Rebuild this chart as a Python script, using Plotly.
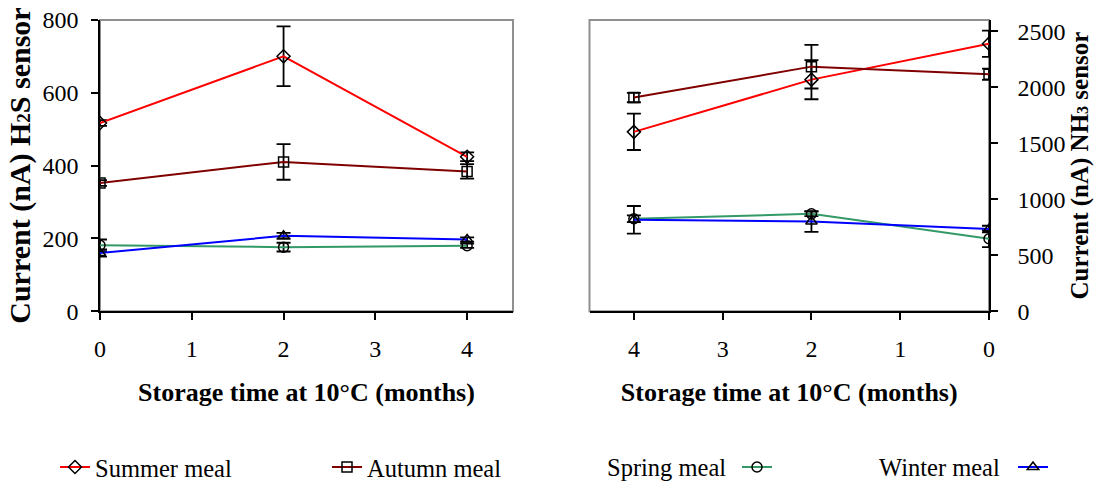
import plotly.graph_objects as go

months = [0, 2, 4]
x_ticks = [0, 1, 2, 3, 4]
h2s_ticks = [0, 200, 400, 600, 800]
nh3_ticks = [0, 500, 1000, 1500, 2000, 2500]

# Left panel: H2S sensor (nA)
h2s_summer = [517, 700, 424]
h2s_summer_err = [8, 82, 12]
h2s_autumn = [352, 410, 384]
h2s_autumn_err = [8, 49, 20]
h2s_spring = [181, 176, 180]
h2s_spring_err = [16, 12, 6]
h2s_winter = [160, 207, 197]
h2s_winter_err = [10, 8, 6]

# Right panel: NH3 sensor (nA)
nh3_summer = [2388, 2067, 1601]
nh3_summer_err = [117, 175, 162]
nh3_autumn = [2115, 2183, 1907]
nh3_autumn_err = [50, 195, 42]
nh3_spring = [647, 869, 825]
nh3_spring_err = [74, 20, 30]
nh3_winter = [733, 801, 816]
nh3_winter_err = [30, 92, 123]

series = [
    ("Summer meal", "#FF0000", "diamond-open", h2s_summer, h2s_summer_err, nh3_summer, nh3_summer_err),
    ("Autumn meal", "#800000", "square-open", h2s_autumn, h2s_autumn_err, nh3_autumn, nh3_autumn_err),
    ("Spring meal", "#339966", "circle-open", h2s_spring, h2s_spring_err, nh3_spring, nh3_spring_err),
    ("Winter meal", "#0000FF", "triangle-up-open", h2s_winter, h2s_winter_err, nh3_winter, nh3_winter_err),
]

W, H = 1096, 490
FONT = "Liberation Serif"

# legend placement; Spring/Winter show their text to the left of the symbol
legend_pos = {
    "Summer meal": ("legend", 55, False),
    "Autumn meal": ("legend2", 327, False),
    "Spring meal": ("legend3", 737, True),
    "Winter meal": ("legend4", 1013, True),
}
legend_text_right = {"Spring meal": 728, "Winter meal": 1002}
LEG_Y = 469

fig = go.Figure()
for name, color, sym, y1, e1, y2, e2 in series:
    leg, _, mirrored = legend_pos[name]
    marker = dict(symbol=sym, size=10, color="black", line=dict(width=1.5, color="black"))
    fig.add_trace(go.Scatter(
        x=months, y=y1, mode="lines+markers", name=(" " if mirrored else name), legend=leg,
        line=dict(color=color, width=2), marker=marker,
        error_y=dict(type="data", array=e1, color="black", thickness=1.8, width=7),
        xaxis="x", yaxis="y"))
    fig.add_trace(go.Scatter(
        x=months, y=y2, mode="lines+markers", name=name, showlegend=False,
        line=dict(color=color, width=2), marker=marker,
        error_y=dict(type="data", array=e2, color="black", thickness=1.8, width=7),
        xaxis="x2", yaxis="y2"))

yd = [1 - 312.5 / H, 1 - 20 / H]
xd1 = [100 / W, 513 / W]
xd2 = [589.5 / W, 989 / W]

tickfont = dict(family=FONT, size=24, color="black")
xtitlefont = dict(family=FONT, size=26, color="black")

common = dict(ticks="outside", ticklen=7, tickwidth=1.5, tickcolor="black", showline=True,
              linecolor="black", linewidth=1.5, showgrid=False, zeroline=False,
              tickfont=tickfont, automargin=False)

legends = {}
for name, (leg, px, mirrored) in legend_pos.items():
    legends[leg] = dict(orientation="h", x=px / W, y=1 - LEG_Y / H,
                        xanchor="left", yanchor="middle",
                        font=dict(family=FONT, size=24.5, color="black"),
                        bgcolor="rgba(0,0,0,0)", borderwidth=0)

annotations = [
    dict(text=name, x=px / W, y=1 - LEG_Y / H, xref="paper", yref="paper", xanchor="right",
         yanchor="middle", showarrow=False, font=dict(family=FONT, size=24.5, color="black"))
    for name, px in legend_text_right.items()
]

fig.update_layout(
    width=W, height=H,
    margin=dict(l=0, r=0, t=0, b=0),
    paper_bgcolor="white", plot_bgcolor="white",
    font=dict(family=FONT, color="black"),
    showlegend=True,
    xaxis=dict(domain=xd1, range=[0, 4.5], tickvals=x_ticks, anchor="y", ticklabelstandoff=8,
               title=dict(text="<b>Storage time at 10°C (months)</b>", font=xtitlefont, standoff=22),
               **common),
    yaxis=dict(domain=yd, range=[0, 800], tickvals=h2s_ticks, anchor="x", ticklabelstandoff=8,
               title=dict(text="<b>Current (nA) H<span style='font-size:19px'>2</span>S sensor</b>",
                          font=dict(family=FONT, size=30, color="black"), standoff=3),
               **common),
    xaxis2=dict(domain=xd2, range=[4.5, 0], tickvals=x_ticks, anchor="y2", ticklabelstandoff=8,
                title=dict(text="<b>Storage time at 10°C (months)</b>", font=xtitlefont, standoff=22),
                **common),
    yaxis2=dict(domain=yd, range=[0, 2600], tickvals=nh3_ticks, side="right", anchor="x2",
                ticklabelstandoff=15,
                title=dict(text="<b>Current (nA) NH<span style='font-size:16px'>3</span> sensor</b>",
                           font=dict(family=FONT, size=25, color="black"), standoff=5),
                **common),
    annotations=annotations,
    shapes=[
        dict(type="rect", xref="x domain", yref="y domain", x0=0, x1=1, y0=0, y1=1,
             line=dict(color="#909090", width=2), layer="below"),
        dict(type="rect", xref="x2 domain", yref="y2 domain", x0=0, x1=1, y0=0, y1=1,
             line=dict(color="#909090", width=2), layer="below"),
    ],
    **legends,
)

fig.write_html("out.html")
